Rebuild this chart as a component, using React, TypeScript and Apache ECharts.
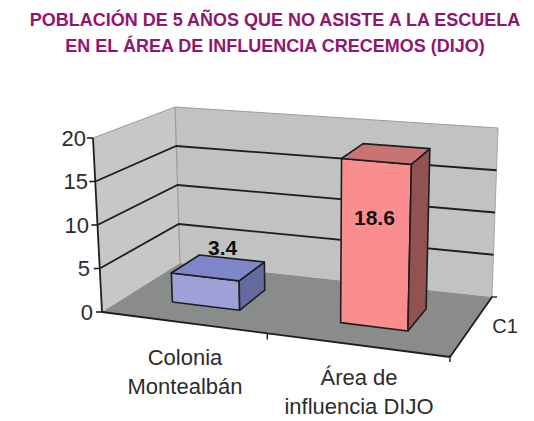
import React, { useEffect, useRef } from "react";
import * as echarts from "echarts";

const titleLines = ["POBLACIÓN DE 5 AÑOS QUE NO ASISTE A LA ESCUELA", "EN EL ÁREA DE INFLUENCIA CRECEMOS (DIJO)"];
const categories = ["Colonia\nMontealbán", "Área de\ninfluencia DIJO"];
const seriesValues = [3.4, 18.6];
const gridValues = [5, 10, 15];
const axisValues = [0, 5, 10, 15, 20];
const depthLabel = "C1";

// Scene layout: corners of the perspective box, in pixels
const FLB = [102, 312], FRB = [450, 357], BLB = [180, 263], BRB = [492, 297];
const FLT = [93, 138], FRT = [456, 170], BLT = [175, 107], BRT = [498, 128];
const BAR_FRONT = 0.32, BAR_BACK = 0.7, BAR_WIDTH = 0.2, BAR_SHIFT = -0.015;
const LABEL_SHIFT = [[4, -20], [-12, 64]];
const TICK_SHIFT = [0, 3, 4, 5, 7];

const lerp = (a: number[], b: number[], t: number) => [a[0] + (b[0] - a[0]) * t, a[1] + (b[1] - a[1]) * t];
const project = (u: number, d: number, h: number) => {
  const bottom = lerp(lerp(FLB, FRB, u), lerp(BLB, BRB, u), d);
  const top = lerp(lerp(FLT, FRT, u), lerp(BLT, BRT, u), d);
  return lerp(bottom, top, h);
};
const poly = (points: number[][], fill: string, stroke = "none", lineWidth = 0) => ({
  type: "polygon",
  shape: { points },
  style: { fill, stroke, lineWidth, lineJoin: "round" },
});
const line = (a: number[], b: number[], stroke: string, lineWidth: number) => ({
  type: "line",
  shape: { x1: a[0], y1: a[1], x2: b[0], y2: b[1] },
  style: { stroke, lineWidth },
});

const INK = "#1c1e20";
const FONT = '"Liberation Sans", Arial, sans-serif';

const frameItem = () => ({
  type: "group",
  children: [
    poly([FLB, FLT, BLT, BLB], "#c6c8c7"),
    poly([BLB, BLT, BRT, BRB], "#c1c3c2"),
    poly([FLB, BLB, BRB, FRB], "#8a8c8b"),
    line(FLT, BLT, "#9a9c9b", 1),
    line(BLT, BRT, "#9a9c9b", 1),
    line(BRT, BRB, "#a5a7a6", 1),
    line(BLT, BLB, "#9a9c9b", 1.2),
  ],
});

const gridItem = (params: any, api: any) => {
  const c = api.coord([0, api.value(1)]);
  const h = 1 - (c[1] - params.coordSys.y) / params.coordSys.height;
  return {
    type: "polyline",
    shape: { points: [project(0, 0, h), project(0, 1, h), project(1, 1, h)] },
    style: { stroke: INK, lineWidth: 1.8, fill: "none" },
  };
};

const axesItem = (params: any, api: any) => {
  const cs = params.coordSys;
  const tickCount = axisValues.length;
  const ticks: any[] = [];
  for (let i = 0; i < tickCount; i++) {
    const h = 1 - (api.coord([0, axisValues[i]])[1] - cs.y) / cs.height;
    const p = project(0, 0, h);
    ticks.push(line([p[0] - 6, p[1]], [p[0] + (i === 0 ? 2 : 0), p[1]], INK, 1.6));
  }
  const mid = lerp(FLB, FRB, 0.475);
  return {
    type: "group",
    children: [
      line(FLT, FLB, INK, 1.8),
      line(FLB, FRB, INK, 1.8),
      line(FRB, BRB, INK, 1.8),
      line(mid, [mid[0], mid[1] + 6], INK, 1.4),
      line([FRB[0], FRB[1] - 2], [FRB[0], FRB[1] + 5], INK, 1.4),
      line([BRB[0] - 1, BRB[1]], [BRB[0] + 5, BRB[1]], INK, 1.4),
      ...ticks,
    ],
  };
};

const barPalette = [
  { front: "#9da1d8", top: "#7f86c9", side: "#666b9f" },
  { front: "#fa8e8e", top: "#c87474", side: "#925252" },
];

const barItem = (params: any, api: any) => {
  const cs = params.coordSys;
  const idx = api.value(0);
  const value = api.value(1);
  const center = api.coord([idx, 0]);
  const tip = api.coord([idx, value]);
  const uc = (center[0] - cs.x) / cs.width + BAR_SHIFT;
  const h = 1 - (tip[1] - cs.y) / cs.height;
  const u0 = uc - BAR_WIDTH / 2, u1 = uc + BAR_WIDTH / 2;
  const a = project(u0, BAR_FRONT, 0), b = project(u1, BAR_FRONT, 0), c = project(u1, BAR_BACK, 0);
  const a2 = project(u0, BAR_FRONT, h), b2 = project(u1, BAR_FRONT, h), c2 = project(u1, BAR_BACK, h), d2 = project(u0, BAR_BACK, h);
  const col = barPalette[idx];
  const mid = project(uc, (BAR_FRONT + BAR_BACK) / 2, h);
  const shift = LABEL_SHIFT[idx];
  return {
    type: "group",
    children: [
      poly([a, b, b2, a2], col.front, INK, 1.6),
      poly([b, c, c2, b2], col.side, INK, 1.6),
      poly([a2, b2, c2, d2], col.top, INK, 1.6),
      {
        type: "text",
        x: mid[0] + shift[0],
        y: mid[1] + shift[1],
        style: {
          text: String(value),
          fill: "#111",
          font: `bold 21px ${FONT}`,
          textAlign: "center",
          textVerticalAlign: "middle",
        },
      },
    ],
  };
};

export default function App() {
  const ref = useRef<HTMLDivElement>(null);
  useEffect(() => {
    document.body.style.margin = "0";
    const chart = echarts.init(ref.current!, undefined, { renderer: "svg" });
    const rich: any = {};
    axisValues.forEach((v, i) => {
      rich["t" + v] = { padding: [0, TICK_SHIFT[i], 0, 0], fontSize: 22, fontFamily: FONT, color: "#2c2c2c" };
    });
    chart.setOption({
      animation: false,
      backgroundColor: "#fff",
      title: {
        text: titleLines.join("\n"),
        left: 270,
        top: 2,
        textAlign: "center",
        textStyle: { color: "#93146c", fontFamily: FONT, fontWeight: "bold", fontSize: 18, lineHeight: 26 },
      },
      grid: { left: 98, top: 138, width: 348, height: 174 },
      xAxis: {
        type: "category",
        data: categories,
        axisLine: { show: false },
        axisTick: { show: false },
        axisLabel: {
          interval: 0,
          margin: 31,
          formatter: (v: string, i: number) => {
            const [l1, l2] = v.split("\n");
            return (i === 1 ? "{s|}\n" : "") + `{a|${l1}}\n{a|${l2}}`;
          },
          rich: {
            a: { fontSize: 22, lineHeight: 29, fontFamily: FONT, color: "#2c2c2c" },
            s: { height: 20, lineHeight: 20, fontSize: 1 },
          },
        },
      },
      yAxis: {
        type: "value",
        min: 0,
        max: 20,
        interval: 5,
        axisLine: { show: false },
        axisTick: { show: false },
        splitLine: { show: false },
        axisLabel: { margin: 5, formatter: (v: number) => `{t${v}|${v}}`, rich },
      },
      graphic: [
        {
          type: "text",
          x: 505,
          y: 326,
          style: { text: depthLabel, fontSize: 20, fontFamily: FONT, fill: "#2c2c2c", textAlign: "center", textVerticalAlign: "middle" },
        },
      ],
      series: [
        { type: "custom", z: 1, silent: true, clip: false, data: [[0, 0]], renderItem: frameItem },
        { type: "custom", z: 2, silent: true, clip: false, data: gridValues.map((v) => [0, v]), renderItem: gridItem },
        { type: "custom", z: 3, silent: true, clip: false, data: [[0, 0]], renderItem: axesItem },
        { type: "custom", z: 4, silent: true, clip: false, data: seriesValues.map((v, i) => [i, v]), encode: { x: 0, y: 1 }, renderItem: barItem },
      ],
    });
    return () => chart.dispose();
  }, []);
  return <div ref={ref} style={{ width: 534, height: 421 }} />;
}
